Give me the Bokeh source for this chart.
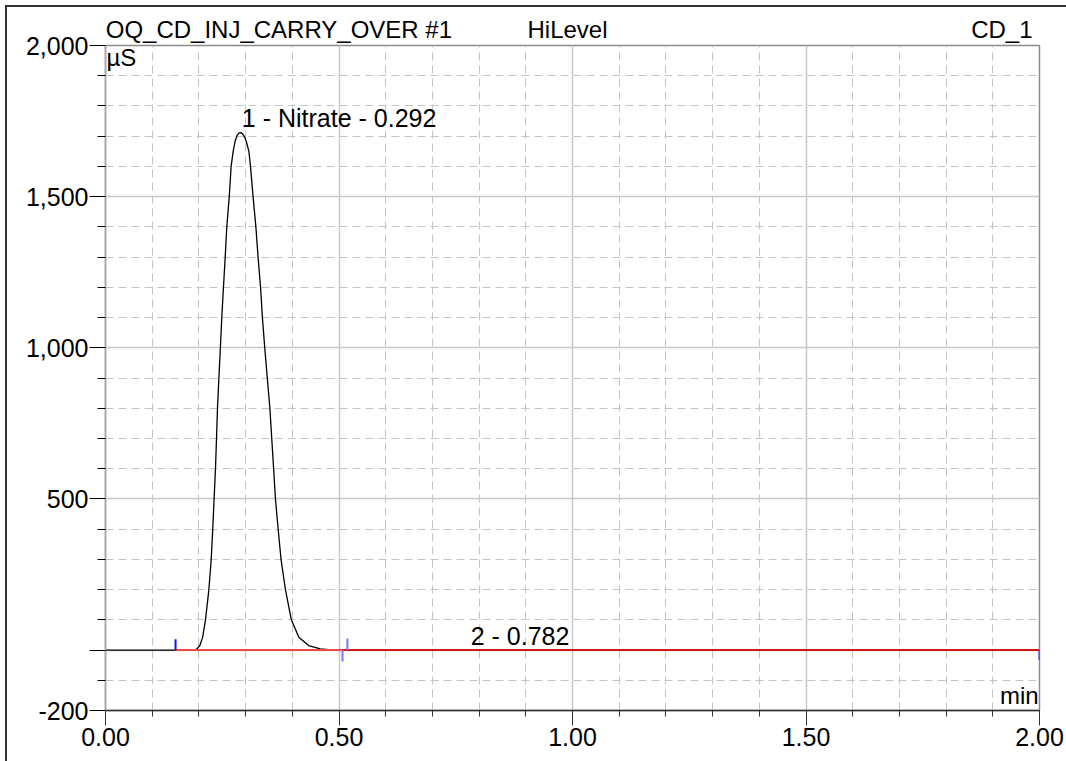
from bokeh.plotting import figure
from bokeh.models import (FixedTicker, SingleIntervalTicker, NumeralTickFormatter,
                          Label, ColumnDataSource, LinearAxis)
from bokeh.embed import file_html
from bokeh.resources import INLINE

# ---------------- data ----------------
time_min = [0.0, 0.190, 0.196, 0.202, 0.208, 0.2141, 0.2213, 0.2263, 0.2296, 0.2325,
            0.2355, 0.2377, 0.2398, 0.2425, 0.246, 0.249, 0.2526, 0.2563, 0.2597,
            0.265, 0.269, 0.2734, 0.2775, 0.2820, 0.2860, 0.2900, 0.2940, 0.2980,
            0.3020, 0.307, 0.3105, 0.316, 0.322,
            0.3267, 0.332, 0.336, 0.341, 0.347, 0.352, 0.356, 0.360, 0.364, 0.3698,
            0.376, 0.3854, 0.398, 0.414, 0.435, 0.460, 0.490, 2.0]
signal_uS = [0, 0, 4, 15, 42, 100, 199, 298, 399, 498,
             600, 700, 800, 890, 1000, 1100, 1200, 1300, 1400,
             1500, 1600, 1650, 1683, 1703, 1711, 1712, 1707, 1697,
             1680, 1650, 1600, 1500, 1400,
             1300, 1200, 1100, 1000, 890, 800, 700, 600, 498, 399,
             298, 199, 100, 42, 15, 4, 0, 0]

baseline_start = [0.15, 0.5075]
baseline_end = [0.518, 2.0]
baseline_colors = ["#f04848", "#d01818"]

marker_t = [0.15, 0.5075, 0.518, 2.0]
marker_h = [36, -38, 38, -33]
marker_colors = ["#1010ee", "#7878ff", "#7878ff", "#3030dd"]

peak_names = ["1 - Nitrate - 0.292", "2 - 0.782"]
peak_t = [0.292, 0.782]
peak_label_y = [1761, 48]

header_texts = ["OQ_CD_INJ_CARRY_OVER #1", "HiLevel", "CD_1"]
header_centers = [0.3713, 0.9893, 1.9193]

y_major = [-200, 0, 500, 1000, 1500, 2000]
y_minor = [v for v in range(-100, 2000, 100) if v not in (0, 500, 1000, 1500)]

FONT = "Liberation Sans"
TICK_SIZE = "25px"

p = figure(frame_width=934, frame_height=665,
           min_border_left=98, min_border_right=27, min_border_top=38, min_border_bottom=51,
           x_range=(0, 2.0), y_range=(-200, 2000),
           output_backend="svg", toolbar_location=None,
           background_fill_color="white", border_fill_color="white")
p.styles = {"margin-left": "5px", "margin-top": "5px",
            "border-left": "2px solid #333333", "border-top": "2px solid #333333"}

p.outline_line_color = "#8a8a8a"
p.outline_line_width = 1.5

# x axis
p.xaxis.ticker = SingleIntervalTicker(interval=0.5, num_minor_ticks=5)
p.xaxis.formatter = NumeralTickFormatter(format="0.00")
p.xaxis.axis_line_color = "#303030"
p.xaxis.axis_line_width = 1.5
p.xaxis.major_tick_line_color = "#303030"
p.xaxis.minor_tick_line_color = "#303030"
p.xaxis.major_tick_out = 15
p.xaxis.major_tick_in = 0
p.xaxis.minor_tick_out = 6
p.xaxis.minor_tick_in = 0
p.xaxis.major_label_standoff = 2
p.xaxis.major_label_text_font = FONT
p.xaxis.major_label_text_font_size = TICK_SIZE
p.xaxis.major_label_text_color = "black"

# y axis
p.yaxis.ticker = FixedTicker(ticks=y_major, minor_ticks=y_minor)
p.yaxis.formatter = NumeralTickFormatter(format="0,0")
p.yaxis.major_label_overrides = {0: ""}
p.yaxis.axis_line_color = "#a8a8a8"
p.yaxis.axis_line_width = 1.5
p.yaxis.major_tick_line_color = "black"
p.yaxis.minor_tick_line_color = "black"
p.yaxis.major_tick_out = 16
p.yaxis.major_tick_in = 0
p.yaxis.minor_tick_out = 8
p.yaxis.minor_tick_in = 0
p.yaxis.major_label_standoff = 1
p.yaxis.major_label_text_font = FONT
p.yaxis.major_label_text_font_size = TICK_SIZE
p.yaxis.major_label_text_color = "black"

# header line as a label-only axis above the frame
top = LinearAxis(ticker=FixedTicker(ticks=header_centers, minor_ticks=[]),
                 major_label_overrides={c: t for c, t in zip(header_centers, header_texts)},
                 axis_line_color=None, major_tick_line_color=None, minor_tick_line_color=None,
                 major_tick_out=0, major_tick_in=0, major_label_standoff=3,
                 major_label_text_font=FONT, major_label_text_font_size="24px",
                 major_label_text_color="black")
p.add_layout(top, "above")

# grids
for g in (p.xgrid, p.ygrid):
    g.grid_line_color = "#c8c8c8"
    g.grid_line_width = 1.5
    g.minor_grid_line_color = "#c4c4c4"
    g.minor_grid_line_width = 1
    g.minor_grid_line_dash = "8 5"

# signal
src = ColumnDataSource(dict(t=time_min, v=signal_uS))
p.line("t", "v", source=src, line_color="black", line_width=1.3)

# baselines
p.segment(x0=baseline_start, y0=[0, 0], x1=baseline_end, y1=[0, 0],
          line_color=baseline_colors, line_width=2)

# markers
p.segment(x0=marker_t, y0=[0] * len(marker_t), x1=marker_t, y1=marker_h,
          line_color=marker_colors, line_width=2)

# peak labels
for name, t, yv in zip(peak_names, peak_t, peak_label_y):
    p.add_layout(Label(x=t, y=yv, text=name, text_font=FONT, text_font_size="25px",
                       text_color="black", text_baseline="alphabetic", text_align="left"))

p.add_layout(Label(x=0.0, y=1960, x_offset=1, text="µS", text_font=FONT,
                   text_font_size="24px", text_color="black",
                   text_baseline="alphabetic", text_align="left"))
p.add_layout(Label(x=1.998, y=-150, text="min", text_font=FONT,
                   text_font_size="24px", text_color="black",
                   text_baseline="alphabetic", text_align="right"))

open("out.html", "w").write(file_html(p, INLINE))
